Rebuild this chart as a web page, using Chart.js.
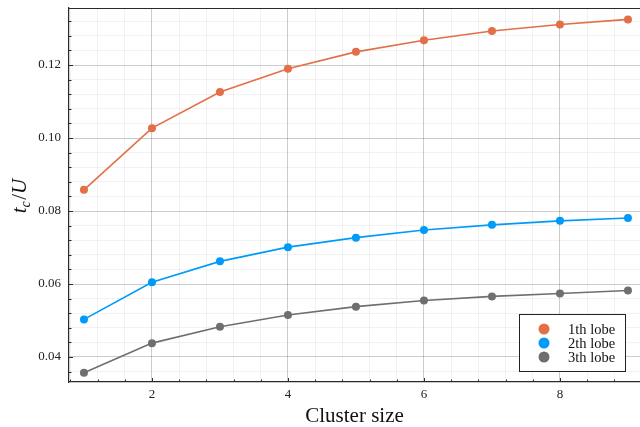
<!DOCTYPE html>
<html>
<head>
<meta charset="utf-8">
<script src="https://cdn.jsdelivr.net/npm/chart.js@4.4.1/dist/chart.umd.min.js"></script>
<style>
html,body{margin:0;padding:0;background:#fff;overflow:hidden;}
#wrap{width:640px;height:427px;overflow:hidden;}
</style>
</head>
<body>
<div id="wrap"><canvas id="c" width="644" height="427"></canvas></div>
<script>
const clusterSizes = [1, 2, 3, 4, 5, 6, 7, 8, 9];
const lobe1 = [0.0858, 0.1027, 0.1126, 0.1190, 0.1236, 0.1268, 0.1293, 0.1311, 0.1325];
const lobe2 = [0.0503, 0.0605, 0.0662, 0.0701, 0.0727, 0.0748, 0.0762, 0.0773, 0.0781];
const lobe3 = [0.0357, 0.0438, 0.0483, 0.0515, 0.0538, 0.0555, 0.0566, 0.0574, 0.0582];
const seriesLabels = ['1th lobe', '2th lobe', '3th lobe'];
const seriesColors = ['#e26f46', '#009af9', '#6f6f6f'];
const xMajorTicks = [2, 4, 6, 8];
const yMajorTicks = [0.04, 0.06, 0.08, 0.10, 0.12];

const FONT = "'Liberation Serif', 'DejaVu Serif', serif";
const XMIN = 0.78, XMAX = 9.177, YMIN = 0.03315, YMAX = 0.13562;
const X_MINOR = 0.4, Y_MINOR = 0.004;

function isMajor(v, list){ return list.some(m => Math.abs(m - v) < 1e-9); }
function minorList(min, max, step){
  const out = [];
  const start = Math.ceil(min/step - 1e-9);
  const end = Math.floor(max/step + 1e-9);
  for (let k = start; k <= end; k++) out.push(+(k*step).toFixed(6));
  return out;
}

const allSeries = [lobe1, lobe2, lobe3];
const datasets = allSeries.map((vals, i) => ({
  label: seriesLabels[i],
  data: clusterSizes.map((x, j) => ({x: x, y: vals[j]})),
  borderColor: seriesColors[i],
  backgroundColor: seriesColors[i],
  borderWidth: 1.6,
  pointRadius: 4,
  pointHoverRadius: 4,
  pointBorderWidth: 0,
  tension: 0,
  clip: false
}));

const framePlugin = {
  id: 'frame',
  afterDraw(chart){
    const ctx = chart.ctx;
    const a = chart.chartArea;
    const xs = chart.scales.x, ys = chart.scales.y;
    ctx.save();
    // top spine
    ctx.strokeStyle = '#2a2a2a';
    ctx.lineWidth = 1.2;
    ctx.beginPath();
    ctx.moveTo(a.left, a.top + 0.5);
    ctx.lineTo(a.right + 5, a.top + 0.5);
    ctx.stroke();
    // inward ticks
    ctx.lineWidth = 1;
    ctx.strokeStyle = '#2a2a2a';
    xs.ticks.forEach(t => {
      const px = Math.round(xs.getPixelForValue(t.value)) + 0.5;
      const len = isMajor(t.value, xMajorTicks) ? 4 : 2.5;
      ctx.beginPath();
      ctx.moveTo(px, a.bottom);
      ctx.lineTo(px, a.bottom - len);
      ctx.stroke();
    });
    ys.ticks.forEach(t => {
      const py = Math.round(ys.getPixelForValue(t.value)) + 0.5;
      const len = isMajor(t.value, yMajorTicks) ? 4 : 2.5;
      ctx.beginPath();
      ctx.moveTo(a.left, py);
      ctx.lineTo(a.left + len, py);
      ctx.stroke();
    });
    // y-axis title: t_c / U
    ctx.translate(21, 196);
    ctx.rotate(-Math.PI/2);
    ctx.fillStyle = '#111';
    ctx.textBaseline = 'alphabetic';
    const f1 = 'italic 21px ' + FONT;
    const f2 = 'italic 14px ' + FONT;
    const f3 = '21px ' + FONT;
    ctx.font = f1; const wt = ctx.measureText('t').width;
    ctx.font = f2; const wc = ctx.measureText('c').width;
    ctx.font = f3; const ws = ctx.measureText('/').width;
    ctx.font = f1; const wu = ctx.measureText('U').width;
    const total = wt + wc + 1.5 + ws + wu;
    let x0 = -total/2;
    const base = 5;
    ctx.font = f1; ctx.fillText('t', x0, base); x0 += wt;
    ctx.font = f2; ctx.fillText('c', x0, base + 4); x0 += wc + 1.5;
    ctx.font = f3; ctx.fillText('/', x0, base); x0 += ws;
    ctx.font = f1; ctx.fillText('U', x0, base);
    ctx.restore();

    // legend
    ctx.save();
    const lx0 = 519, ly0 = 314, lw = 106, lh = 57;
    ctx.fillStyle = '#fff';
    ctx.fillRect(lx0, ly0, lw, lh);
    ctx.strokeStyle = '#222';
    ctx.lineWidth = 1;
    ctx.strokeRect(lx0 + 0.5, ly0 + 0.5, lw, lh);
    ctx.font = '14.5px ' + FONT;
    ctx.textBaseline = 'middle';
    ctx.textAlign = 'left';
    chart.data.datasets.forEach((ds, i) => {
      const cy = ly0 + 15 + i*14;
      ctx.fillStyle = ds.backgroundColor;
      ctx.beginPath();
      ctx.arc(lx0 + 25, cy, 5.5, 0, Math.PI*2);
      ctx.fill();
      ctx.fillStyle = '#111';
      ctx.fillText(ds.label, lx0 + 49, cy + 1);
    });
    ctx.restore();
  }
};

new Chart(document.getElementById('c'), {
  type: 'line',
  data: { datasets: datasets },
  options: {
    responsive: false,
    animation: false,
    events: [],
    layout: { padding: { top: 8, right: 0, left: 0, bottom: 0 } },
    plugins: { legend: { display: false }, tooltip: { enabled: false } },
    scales: {
      x: {
        type: 'linear',
        min: XMIN, max: XMAX,
        afterBuildTicks(scale){ scale.ticks = minorList(XMIN, XMAX, X_MINOR).map(v => ({value: v})); },
        afterFit(scale){ scale.height = 45; scale.paddingLeft = 0; scale.paddingRight = 0; },
        ticks: {
          autoSkip: false, maxRotation: 0, padding: 5,
          color: '#222',
          font: { family: FONT, size: 13 },
          callback: (v) => isMajor(v, xMajorTicks) ? String(Math.round(v)) : ''
        },
        grid: {
          drawTicks: false,
          color: (c) => (c.tick && isMajor(c.tick.value, xMajorTicks)) ? 'rgba(0,0,0,0.2)' : 'rgba(0,0,0,0.05)',
          lineWidth: 1
        },
        border: { display: true, color: '#2a2a2a', width: 1.2 },
        title: {
          display: true, text: 'Cluster size', color: '#111',
          font: { family: FONT, size: 21, lineHeight: 1 },
          padding: { top: 4, bottom: 0 }
        }
      },
      y: {
        type: 'linear',
        min: YMIN, max: YMAX,
        afterBuildTicks(scale){ scale.ticks = minorList(YMIN, YMAX, Y_MINOR).map(v => ({value: v})); },
        afterFit(scale){ scale.width = 69; scale.paddingTop = 0; scale.paddingBottom = 0; },
        ticks: {
          autoSkip: false, padding: 8,
          color: '#222',
          font: { family: FONT, size: 13 },
          callback: (v) => isMajor(v, yMajorTicks) ? v.toFixed(2) : ''
        },
        grid: {
          drawTicks: false,
          color: (c) => (c.tick && isMajor(c.tick.value, yMajorTicks)) ? 'rgba(0,0,0,0.2)' : 'rgba(0,0,0,0.05)',
          lineWidth: 1
        },
        border: { display: true, color: '#2a2a2a', width: 1.2 }
      }
    }
  },
  plugins: [framePlugin]
});
</script>
</body>
</html>
